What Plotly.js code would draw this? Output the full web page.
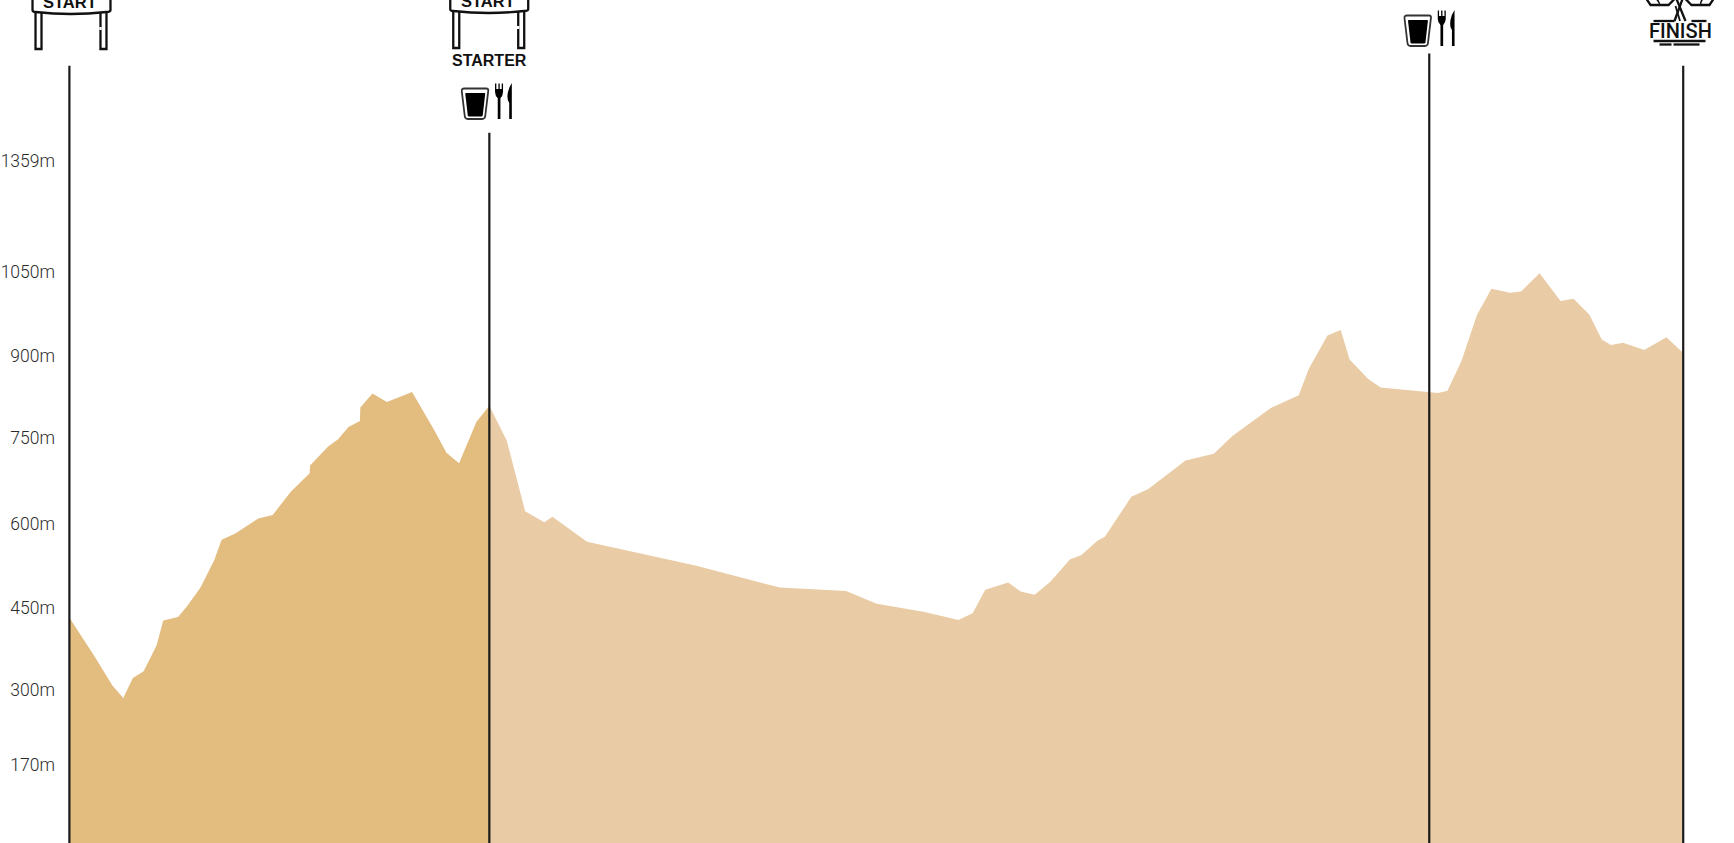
<!DOCTYPE html>
<html>
<head>
<meta charset="utf-8">
<script src="https://cdn.plot.ly/plotly-3.0.1.min.js"></script>
<style>html,body{margin:0;padding:0;background:#fff;overflow:hidden}#chart{width:1734px;height:843px}</style>
</head>
<body>
<div id="chart"></div>
<script>
// Distance along the route and elevation (m)
const approachDistance = [-0.05,2.48,4.26,5.33,6.29,7.37,8.66,9.33,10.81,11.73,13.06,14.43,15.17,16.54,18.84,20.28,22.09,23.98,24.02,25.83,26.83,27.86,29.01,29.05,30.27,31.71,34.23,36.34,37.67,38.93,40.66,41.96];
const approachElevation = [431,361,309,287,323,335,381,426,432,452,485,534,571,582,609,615,657,690,704,738,751,773,784,808,833,818,836,771,727,708,782,811];
const mainDistance = [41.96,43.7,45.54,47.46,48.27,51.74,62.68,71.05,77.66,80.72,85.54,88.89,90.32,91.58,93.87,95.13,96.52,98.07,100.07,101.17,102.81,103.55,106.2,107.9,111.62,114.45,116.31,120.15,122.95,123.95,125.82,127.15,128.04,129.9,131.15,136.01,136.9,137.83,139.24,140.78,142.23,144.09,145.19,147.05,149.15,150.44,152.02,153.27,154.2,155.41,157.52,159.74,161.42];
const mainElevation = [811,749,622,602,612,567,524,485,479,456,441,427,439,481,494,478,472,495,536,543,569,576,648,662,713,725,757,807,830,877,937,947,894,859,844,835,834,838,892,974,1021,1014,1016,1049,999,1003,975,930,920,924,911,934,906];

// Vertical markers along the route
const markerDistance = [-0.06,41.96,136.01,161.42];
const markerTop = [1421,1301,1443,1421];
const markerBase = 27;

// Axis labels
const tickPositions = [167,301,449,600,753,901,1052,1250];
const tickLabels = ['170m','300m','450m','600m','750m','900m','1050m','1359m'];

const W = 1734, H = 843, ML = 59.5, MR = 40.5;
const PW = W - ML - MR;
function px2x(x) { return (x - ML) / PW; }
function path(str, dx, dy) {
  dx = dx || 0; dy = dy || 0;
  return str.replace(/(-?[\d.]+) (-?[\d.]+)/g, function (m, a, b) {
    return px2x((+a) + dx).toFixed(5) + ' ' + (1 - ((+b) + dy) / H).toFixed(5);
  });
}
function shape(str, dx, dy, opts) {
  opts = opts || {};
  return {
    type: 'path', xref: 'paper', yref: 'paper', layer: 'above',
    path: path(str, dx, dy),
    fillcolor: opts.fill || 'rgba(0,0,0,0)',
    line: { color: opts.color || '#111', width: opts.width === undefined ? 2.3 : opts.width }
  };
}

const shapes = [];
function startSign(dx, dy) {
  shapes.push(shape('M 32 -4 L 32 10 Q 32 12 35 12 Q 70 16 106 12 Q 110 12 110 10 L 110 -4', dx, dy));
  shapes.push(shape('M 35 13 L 35 49 L 41 49 L 41 13', dx, dy));
  shapes.push(shape('M 100 13 L 100 49 L 106 49 L 106 13', dx, dy));
  shapes.push(shape('M 100 27 L 100 30', dx, dy, { color: '#fff', width: 2.4 }));
}
function foodIcon(dx, dy) {
  shapes.push(shape('M 461.5 91 Q 461.3 88.5 464 88.5 L 486 88.5 Q 488.4 88.5 488 91 L 485 116 Q 484.7 119 482 119 L 467.5 119 Q 464.8 119 464.5 116 Z', dx, dy, { color: '#333', width: 1.8 }));
  shapes.push(shape('M 465 93.5 Q 465 93 466 93 L 484 93 Q 485 93 485 93.5 L 482.5 115.3 Q 482.3 116.5 481 116.5 L 469 116.5 Q 467.7 116.5 467.5 115.3 Z', dx, dy, { fill: '#000', width: 0 }));
  shapes.push(shape('M 497.5 96 L 500.2 96 L 500.2 119 L 497.5 119 Z', dx, dy, { fill: '#000', width: 0 }));
  shapes.push(shape('M 494.8 83.5 L 496.1 83.5 L 496.1 89 L 498.2 89 L 498.2 83.5 L 499.5 83.5 L 499.5 89 L 501.5 89 L 501.5 83.5 L 502.8 83.5 L 502.8 92 Q 502.6 96 500.2 98 L 497.5 98 Q 495 96 494.8 92 Z', dx, dy, { fill: '#000', width: 0 }));
  shapes.push(shape('M 511.6 83 L 511.6 119 L 509 119 L 509 103 Q 506.5 100 507.5 93 Q 508.8 87 511.6 83 Z', dx, dy, { fill: '#000', width: 0 }));
}
startSign(0, 0);
startSign(418, -1);
foodIcon(0, 0);
foodIcon(943.3, -73);

// Finish tree
shapes.push(shape('M 1675 21 L 1683 -1'));
shapes.push(shape('M 1686 21 L 1677 -1'));
shapes.push(shape('M 1680.5 21 L 1676 6', 0, 0, { width: 1.8 }));
shapes.push(shape('M 1647 -1 L 1651 5 L 1669 5 L 1675 -1'));
shapes.push(shape('M 1686 -1 L 1692 5 L 1710 5 L 1714 -1'));
shapes.push(shape('M 1657 -1 Q 1660 2 1660 5', 0, 0, { width: 1.6 }));
shapes.push(shape('M 1703 -1 Q 1701 2 1701 5', 0, 0, { width: 1.6 }));
shapes.push(shape('M 1654 21 L 1675 21'));
shapes.push(shape('M 1692 21 L 1707 21'));
shapes.push(shape('M 1654 41 L 1706 41'));
shapes.push(shape('M 1660 44.5 L 1672 44.5'));
shapes.push(shape('M 1674 44.5 L 1700 44.5'));

function label(text, x, y, family, size, weight) {
  return {
    text: text, xref: 'paper', yref: 'paper', x: px2x(x), y: 1 - y / H,
    xanchor: 'center', yanchor: 'middle', showarrow: false,
    font: { family: family, size: size, weight: weight, color: '#111' }
  };
}
const labelFont = '"Liberation Sans", Arial, sans-serif';
const annotations = [
  label('START', 70, 2, labelFont, 16.5, 700),
  label('START', 488, 1, labelFont, 16.5, 700),
  label('STARTER', 489, 61, labelFont, 16, 700),
  label('FINISH', 1680.5, 31, 'Roboto, sans-serif', 20, 500)
];

const areaLine = { width: 0 };
const traces = [
  { x: approachDistance, y: approachElevation, type: 'scatter', mode: 'lines', fill: 'tozeroy', fillcolor: '#E3BC80', line: areaLine, showlegend: false },
  { x: mainDistance, y: mainElevation, type: 'scatter', mode: 'lines', fill: 'tozeroy', fillcolor: '#E9CCA5', line: areaLine, showlegend: false }
];
markerDistance.forEach(function (d, i) {
  traces.push({ x: [d, d], y: [markerBase, markerTop[i]], type: 'scatter', mode: 'lines', line: { color: '#1a1a1a', width: 2.2 }, showlegend: false });
});

const layout = {
  width: W, height: H,
  margin: { l: ML, r: MR, t: 0, b: 0, pad: 0 },
  paper_bgcolor: '#fff', plot_bgcolor: '#fff',
  hovermode: false, showlegend: false,
  xaxis: { range: [-1, 162.4], visible: false, fixedrange: true },
  yaxis: {
    range: [26.8, 1539], fixedrange: true, automargin: false,
    tickmode: 'array', tickvals: tickPositions, ticktext: tickLabels,
    showgrid: false, zeroline: false, showline: false, ticks: '', ticklabelstandoff: 4,
    tickfont: { family: 'Roboto, sans-serif', size: 17.5, weight: 300, color: '#2b2b2b' }
  },
  shapes: shapes,
  annotations: annotations
};
Plotly.newPlot('chart', traces, layout, { displayModeBar: false, staticPlot: true });
</script>
</body>
</html>
